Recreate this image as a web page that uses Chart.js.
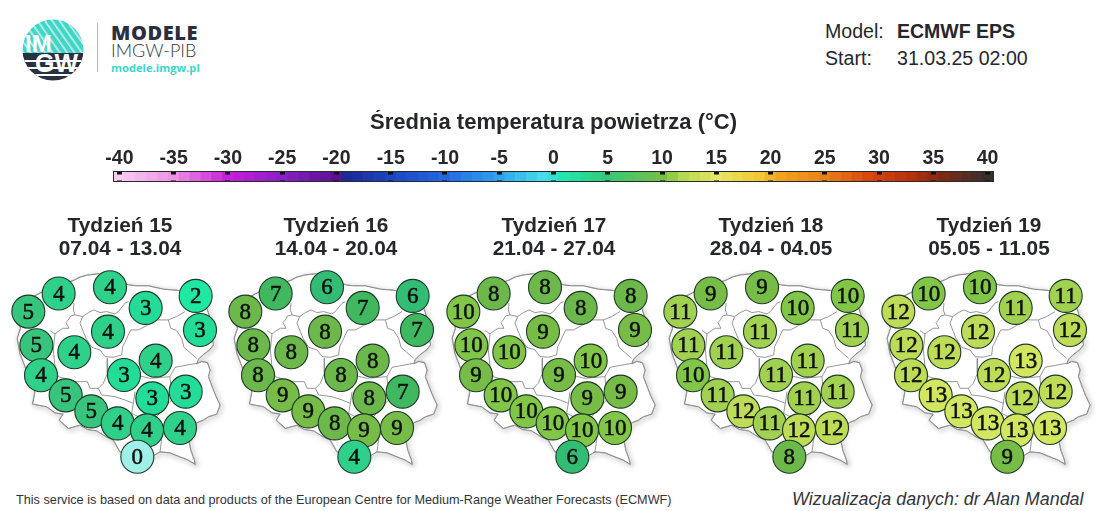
<!DOCTYPE html>
<html lang="pl">
<head>
<meta charset="utf-8">
<title>Średnia temperatura powietrza</title>
<script src="https://cdn.jsdelivr.net/npm/chart.js@4"></script>
<style>
    html, body { margin: 0; padding: 0; background: #fff; overflow: hidden; }
    body { position: relative; width: 1100px; height: 511px; font-family: "Liberation Sans", Arial, sans-serif; color: #26272b; }
    .abs { position: absolute; white-space: nowrap; }
    canvas { position: absolute; }
</style>
</head>
<body>
<svg class="abs" style="left:0;top:0" width="110" height="90">
    <defs>
        <clipPath id="disc"><circle cx="53" cy="50" r="30.5"/></clipPath>
        <pattern id="hatch" width="6" height="6" patternUnits="userSpaceOnUse" patternTransform="rotate(-35)">
            <rect width="6" height="6" fill="#3fd6c6"/>
            <rect width="1.6" height="6" fill="#c8f2ec"/>
        </pattern>
    </defs>
    <g clip-path="url(#disc)">
        <rect x="20" y="18" width="70" height="36" fill="url(#hatch)"/>
        <rect x="20" y="53" width="70" height="30" fill="#2b3040"/>
        <rect x="20" y="60" width="70" height="2" fill="#fff"/>
        <rect x="20" y="67" width="70" height="2" fill="#fff"/>
        <rect x="20" y="74" width="70" height="2" fill="#fff"/>
    </g>
    <text x="25" y="52" font-family="Liberation Sans" font-weight="700" font-size="24" fill="#fff">IM</text>
    <text x="35" y="72" font-family="Liberation Sans" font-weight="700" font-size="25" fill="#fff">GW</text>
    <rect x="97" y="23" width="1" height="49" fill="#b5b5b5"/>
</svg>
<div class="abs" style="left:111px;top:19px;font:800 20px 'Open Sans';letter-spacing:.6px;color:#2b2e3f">MODELE</div>
<div class="abs" style="left:111px;top:39px;font:300 18px Lato;color:#34363f">IMGW-PIB</div>
<div class="abs" style="left:111px;top:60px;font:700 11.2px 'Open Sans';color:#3fd6c6">modele.imgw.pl</div>
<div class="abs" style="left:825px;top:20px;font-size:19.6px">Model:</div>
<div class="abs" style="left:897px;top:20px;font-size:19.5px;font-weight:700">ECMWF EPS</div>
<div class="abs" style="left:825px;top:47px;font-size:19.6px">Start:</div>
<div class="abs" style="left:897px;top:47px;font-size:19.6px">31.03.25 02:00</div>
<div class="abs" style="left:16px;top:493px;font-size:12.7px;color:#33343a">This service is based on data and products of the European Centre for Medium-Range Weather Forecasts (ECMWF)</div>
<div class="abs" style="left:792px;top:489px;font-size:17.9px;font-style:italic;color:#33343a">Wizualizacja danych: dr Alan Mandal</div>

<canvas id="scaleBar" width="906" height="73" style="left:100px;top:110px"></canvas>
<canvas id="week0"></canvas>
<canvas id="week1"></canvas>
<canvas id="week2"></canvas>
<canvas id="week3"></canvas>
<canvas id="week4"></canvas>

<script>
// tygodnie
const weekNames = ['Tydzień 15', 'Tydzień 16', 'Tydzień 17', 'Tydzień 18', 'Tydzień 19'];
const weekDates = ['07.04 - 13.04', '14.04 - 20.04', '21.04 - 27.04', '28.04 - 04.05', '05.05 - 11.05'];

// prognoza dla 20 punktów, ta sama kolejność co stationX / stationY
const week15 = [5, 4, 4, 3, 2, 3, 4, 5, 4, 4, 3, 4, 5, 3, 3, 5, 4, 4, 4, 0];
const week16 = [8, 7, 6, 7, 6, 7, 8, 8, 8, 8, 8, 8, 9, 8, 7, 9, 8, 9, 9, 4];
const week17 = [10, 8, 8, 8, 8, 9, 9, 10, 10, 9, 9, 10, 10, 9, 9, 10, 10, 10, 10, 6];
const week18 = [11, 9, 9, 10, 10, 11, 11, 11, 11, 10, 11, 11, 11, 11, 11, 12, 11, 12, 12, 8];
const week19 = [12, 10, 10, 11, 11, 12, 12, 12, 12, 12, 12, 13, 13, 12, 12, 13, 13, 13, 13, 9];
const weeks = [week15, week16, week17, week18, week19];

// położenie punktów w jednostkach mapy
const stationX = [85, 176, 330, 437, 587, 600, 324, 109, 223, 123, 372, 467, 197, 457, 557, 274, 353, 441, 540, 412];
const stationY = [155, 101, 82, 144, 108, 210, 215, 256, 277, 346, 345, 302, 406, 415, 395, 454, 490, 511, 504, 590];

// kontur Polski
const outlineX = [225, 240, 262, 295, 330, 385, 410, 445, 490, 535, 590, 622, 628, 632, 640, 628, 608, 595, 590, 605, 622, 630, 625, 638, 648, 660, 650, 625, 610, 590, 580, 565, 572, 583, 585, 565, 540, 510, 480, 455, 430, 395, 360, 340, 318, 290, 262, 240, 205, 178, 190, 165, 140, 98, 105, 85, 60, 52, 62, 50, 60, 130, 225];
const outlineY = [60, 52, 46, 42, 55, 75, 78, 78, 88, 92, 95, 150, 170, 200, 255, 270, 285, 298, 312, 305, 308, 330, 350, 385, 410, 435, 462, 470, 480, 488, 510, 535, 570, 600, 612, 600, 590, 578, 575, 590, 612, 585, 575, 540, 530, 512, 508, 495, 505, 480, 462, 458, 440, 432, 395, 345, 280, 235, 205, 165, 130, 95, 60];

// granice województw, null przerywa linię
const borderX = [222, 220, 225, 212, 205, 198, 207, 190, 178, 165, 155, 150, null, 225, 248, 265, 282, 300, 320, 345, 355, 375, 385, null, 248, 240, 250, 258, 275, 300, 315, 340, 365, 368, 378, 392, 415, 440, 470, 505, 530, 555, null, 505, 512, 530, 545, 552, 570, 590, null, 322, 322, 310, 295, 305, 345, 375, 400, 395, 415, null, 295, 270, 262, 225, 175, 150, null, 410, 420, 450, 510, 525, 590, null, 510, 515, 495, 470, 490, 480, null, 165, 160, 165, 175, null, 400, 405];
const borderY = [130, 150, 165, 168, 180, 188, 205, 205, 212, 222, 215, 212, null, 165, 170, 158, 150, 158, 155, 162, 155, 130, 125, null, 170, 190, 215, 235, 262, 270, 290, 292, 285, 260, 240, 210, 210, 197, 180, 180, 170, 155, null, 180, 205, 212, 235, 262, 278, 295, null, 295, 340, 370, 385, 405, 410, 420, 430, 460, 470, null, 385, 385, 365, 365, 350, 340, null, 350, 348, 355, 350, 322, 310, null, 350, 420, 440, 470, 500, 575, null, 222, 270, 320, 350, null, 430, 395];

// skala barw
const scaleTicks = [-40, -35, -30, -25, -20, -15, -10, -5, 0, 5, 10, 15, 20, 25, 30, 35, 40];
const scaleCells = [];
for (let t = -40; t <= 40; t++) scaleCells.push(t);

const colorStops = [
    [-40, '#f9cdf0'], [-35, '#ee92e4'], [-30, '#c61fd8'], [-25, '#8a20c4'], [-20, '#5a1092'], [-19, '#1b2a94'],
    [-15, '#1c45c0'], [-10, '#2268e2'], [-5, '#2fa2ee'], [-1, '#47dcec'], [1, '#22e6ae'], [5, '#33c978'],
    [10, '#74bf44'], [12, '#b4d850'], [15, '#e6e664'], [19, '#f0c832'], [21, '#f2a31e'], [25, '#e8801a'],
    [29, '#d8470e'], [33, '#b5300c'], [36, '#7a2a14'], [40, '#33302e']
];
const valueColors = {
    0: '#a0f0e8', 2: '#1fe8a2', 3: '#22dc98', 4: '#2ed08a', 5: '#37c47c', 6: '#33bd74', 7: '#3fb860',
    8: '#6cb84a', 9: '#78bc48', 10: '#82c648', 11: '#a2d050', 12: '#bedc58', 13: '#d2e660'
};

function hexToRgb(hex) {
    return [1, 3, 5].map(i => parseInt(hex.slice(i, i + 2), 16));
}

function scaleColor(t) {
    for (let i = 1; i < colorStops.length; i++) {
        if (t <= colorStops[i][0]) {
            const [t0, c0] = colorStops[i - 1];
            const [t1, c1] = colorStops[i];
            const k = (t - t0) / (t1 - t0);
            const a = hexToRgb(c0), b = hexToRgb(c1);
            return `rgb(${a.map((v, n) => Math.round(v + (b[n] - v) * k)).join(',')})`;
        }
    }
    return colorStops[colorStops.length - 1][1];
}

const barFrame = {
    id: 'barFrame',
    afterDatasetsDraw(chart) {
        const { ctx, chartArea: a } = chart;
        ctx.save();
        ctx.strokeStyle = '#2a2a2e';
        ctx.lineWidth = 1;
        ctx.strokeRect(a.left - 0.5, a.top - 0.5, a.width + 1, a.height + 1);
        ctx.restore();
    }
};

new Chart(document.getElementById('scaleBar'), {
    type: 'bar',
    data: {
        labels: scaleCells,
        datasets: [{
            data: scaleCells.map(() => 1),
            backgroundColor: scaleCells.map(scaleColor),
            barPercentage: 1,
            categoryPercentage: 1
        }]
    },
    options: {
        responsive: false,
        animation: false,
        layout: { padding: { left: 14, right: 13, top: 0, bottom: 2 }, autoPadding: false },
        plugins: {
            legend: { display: false },
            tooltip: { enabled: false },
            title: {
                display: true,
                text: 'Średnia temperatura powietrza (°C)',
                color: '#26272b',
                font: { family: 'Liberation Sans', size: 22, weight: 'bold' },
                padding: { top: 0, bottom: 8.2 }
            }
        },
        scales: {
            x: { display: false },
            y: { display: false, min: 0, max: 1 },
            tickAxis: {
                type: 'linear',
                position: 'top',
                min: -40.5,
                max: 40.5,
                offset: false,
                afterBuildTicks: axis => { axis.ticks = scaleTicks.map(value => ({ value })); },
                border: { display: false, dash: [2.5, 6, 2.5] },
                grid: { color: '#111', lineWidth: 5, drawTicks: false, offset: false, z: 1 },
                ticks: {
                    color: '#26272b',
                    padding: 2,
                    maxRotation: 0,
                    autoSkip: false,
                    font: { family: 'Liberation Sans', size: 19.5, weight: 'bold' }
                }
            }
        }
    },
    plugins: [barFrame]
});

// cień konturu tylko dla pierwszej warstwy
const mapShadow = {
    id: 'mapShadow',
    beforeDatasetDraw(chart, args) {
        if (args.index === 0) {
            const ctx = chart.ctx;
            ctx.save();
            ctx.shadowColor = 'rgba(90,90,90,0.65)';
            ctx.shadowBlur = 5;
            ctx.shadowOffsetX = 1.5;
            ctx.shadowOffsetY = 1.5;
        }
    },
    afterDatasetDraw(chart, args) {
        if (args.index === 0) chart.ctx.restore();
    }
};

const stationLabels = {
    id: 'stationLabels',
    afterDatasetsDraw(chart) {
        const { ctx } = chart;
        const index = chart.data.datasets.length - 1;
        const values = chart.data.datasets[index].values;
        ctx.save();
        ctx.fillStyle = '#0d100e';
        ctx.strokeStyle = '#0d100e';
        ctx.lineWidth = 0.5;
        ctx.font = '23px "Liberation Sans Narrow"';
        ctx.textAlign = 'center';
        ctx.textBaseline = 'middle';
        chart.getDatasetMeta(index).data.forEach((point, i) => {
            ctx.fillText(values[i], point.x, point.y + 1);
            ctx.strokeText(values[i], point.x, point.y + 1);
        });
        ctx.restore();
    }
};

const canvasLeft = [-3, 213, 431, 648, 866];
const mapOffset = [0, 217, 435, 652, 870];
const outline = outlineX.map((x, i) => ({ x, y: outlineY[i] }));
const borders = borderX.map((x, i) => ({ x, y: borderY[i] }));

weeks.forEach((values, w) => {
    const canvas = document.getElementById('week' + w);
    canvas.style.left = canvasLeft[w] + 'px';
    canvas.style.top = '215px';
    canvas.width = 246;
    canvas.height = 276;
    const xMin = (canvasLeft[w] - mapOffset[w]) * 3;
    new Chart(canvas, {
        type: 'scatter',
        data: {
            datasets: [
                { data: outline, showLine: true, fill: 'shape', backgroundColor: '#fff', borderColor: '#aaa', borderWidth: 1.5, pointRadius: 0, clip: false, order: 4 },
                { data: outline, showLine: true, fill: 'shape', backgroundColor: '#fff', borderColor: '#8c8c8c', borderWidth: 1, pointRadius: 0, clip: false, order: 3 },
                { data: borders, showLine: true, spanGaps: false, borderColor: '#8a8a8a', borderWidth: 0.9, pointRadius: 0, clip: false, order: 2 },
                {
                    data: stationX.map((x, i) => ({ x, y: stationY[i] })),
                    values,
                    pointRadius: 16.5,
                    pointBackgroundColor: values.map(v => valueColors[v]),
                    pointBorderColor: '#1f3a28',
                    pointBorderWidth: 1.1,
                    clip: false,
                    order: 1
                }
            ]
        },
        options: {
            responsive: false,
            animation: false,
            layout: { padding: 0, autoPadding: false },
            plugins: {
                legend: { display: false },
                tooltip: { enabled: false },
                title: {
                    display: true,
                    text: [weekNames[w], weekDates[w]],
                    color: '#26272b',
                    font: { family: 'Liberation Sans', size: 20.8, weight: 'bold', lineHeight: 1.1 },
                    padding: 0
                }
            },
            scales: {
                x: { display: false, type: 'linear', min: xMin, max: xMin + 738 },
                y: { display: false, type: 'linear', min: 2.7, max: 692.7, reverse: true }
            }
        },
        plugins: [mapShadow, stationLabels]
    });
});
</script>
</body>
</html>
